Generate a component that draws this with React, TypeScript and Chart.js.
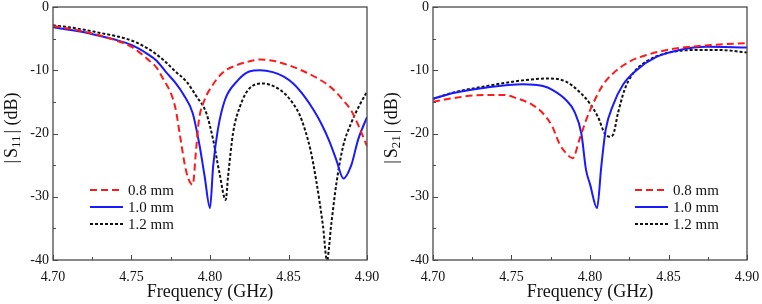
import React, { useEffect, useRef } from "react";
import { Chart, registerables } from "chart.js";

Chart.register(...registerables);

type Pt = [number, number];

// ---------- Data ----------
const S11_08: Pt[] = [
  [4.700, -3.0], [4.710, -3.4], [4.720, -3.9], [4.730, -4.5], [4.740, -5.3], [4.750, -6.3],
  [4.760, -8.2], [4.766, -9.6], [4.770, -11.3], [4.775, -13.6], [4.778, -16.0], [4.781, -20.5],
  [4.784, -25.0], [4.786, -27.0], [4.789, -28.1], [4.791, -23.0], [4.793, -17.8], [4.7965, -14.7],
  [4.801, -12.6], [4.808, -10.4], [4.817, -9.2], [4.825, -8.6], [4.832, -8.3], [4.840, -8.5],
  [4.850, -9.2], [4.860, -10.2], [4.870, -11.5], [4.875, -12.3], [4.880, -13.4], [4.885, -14.8],
  [4.890, -16.4], [4.895, -19.0], [4.900, -22.0],
];
const S11_10: Pt[] = [
  [4.700, -3.2], [4.710, -3.6], [4.720, -4.0], [4.730, -4.6], [4.740, -5.2], [4.750, -6.0],
  [4.760, -7.4], [4.766, -8.5], [4.772, -10.3], [4.778, -12.0], [4.783, -13.8], [4.789, -16.8],
  [4.7935, -22.1], [4.7966, -26.8], [4.800, -31.8], [4.802, -25.2], [4.805, -19.4], [4.8095, -14.7],
  [4.817, -11.8], [4.825, -10.2], [4.832, -10.0], [4.840, -10.3], [4.847, -11.0], [4.853, -12.1],
  [4.860, -14.1], [4.866, -16.3], [4.871, -18.5], [4.876, -21.2], [4.8805, -24.2], [4.885, -27.1],
  [4.890, -25.0], [4.8943, -21.0], [4.900, -17.4],
];
const S11_12: Pt[] = [
  [4.700, -2.9], [4.710, -3.2], [4.720, -3.6], [4.730, -4.1], [4.740, -4.6], [4.750, -5.3],
  [4.760, -6.5], [4.770, -8.3], [4.778, -10.2], [4.785, -11.8], [4.7913, -14.1], [4.7977, -16.8],
  [4.802, -21.0], [4.806, -26.2], [4.810, -30.5], [4.8115, -26.8], [4.8147, -19.9], [4.819, -15.8],
  [4.825, -12.9], [4.834, -12.1], [4.842, -12.7], [4.848, -13.8], [4.853, -15.3], [4.857, -17.0],
  [4.8605, -19.4], [4.864, -22.6], [4.8677, -27.5], [4.872, -34.7], [4.8745, -40.0], [4.8773, -34.2],
  [4.8805, -27.9], [4.8847, -22.1], [4.890, -18.3], [4.8953, -15.5], [4.900, -13.4],
];

const S21_08: Pt[] = [
  [4.700, -15.0], [4.713, -14.4], [4.732, -13.9], [4.745, -13.9], [4.753, -14.4], [4.7635, -15.5],
  [4.770, -16.8], [4.776, -18.9], [4.7805, -21.6], [4.7847, -23.1], [4.789, -23.9], [4.7932, -21.0],
  [4.7975, -17.9], [4.8017, -15.4], [4.8083, -12.3], [4.8147, -10.5], [4.8253, -8.6], [4.836, -7.6],
  [4.851, -6.7], [4.868, -6.2], [4.885, -5.9], [4.900, -5.7],
];
const S21_10: Pt[] = [
  [4.700, -14.5], [4.713, -13.6], [4.732, -12.8], [4.7573, -12.2], [4.770, -12.5], [4.776, -13.1],
  [4.7847, -14.7], [4.790, -16.5], [4.7945, -20.0], [4.7975, -25.8], [4.800, -28.0], [4.8045, -31.8],
  [4.8072, -25.2], [4.810, -19.4], [4.8147, -15.5], [4.821, -12.3], [4.8296, -10.0], [4.8423, -7.9],
  [4.857, -6.8], [4.874, -6.3], [4.900, -6.4],
];
const S21_12: Pt[] = [
  [4.700, -14.5], [4.715, -13.4], [4.7318, -12.6], [4.7573, -11.6], [4.774, -11.3], [4.7847, -11.8],
  [4.7932, -13.4], [4.800, -15.3], [4.8051, -17.4], [4.8094, -20.0], [4.8125, -20.5], [4.8147, -20.2],
  [4.8178, -16.8], [4.822, -13.1], [4.8274, -10.5], [4.836, -8.6], [4.8487, -7.3], [4.868, -6.8],
  [4.8826, -6.8], [4.900, -7.2],
];

const SERIES_LABELS = ["0.8 mm", "1.0 mm", "1.2 mm"];
const X_MIN = 4.7;
const X_MAX = 4.9;
const X_STEP = 0.05;
const Y_MIN = -40;
const Y_MAX = 0;
const Y_STEP = 10;
const X_TITLE = "Frequency (GHz)";

// ---------- Styles ----------
const SERIF = "'Liberation Serif', 'Times New Roman', serif";
const FRAME = "#4a4a4a";
const STYLES = [
  { color: "#ff1a1a", dash: [7, 4] },
  { color: "#1a1aff", dash: [] as number[] },
  { color: "#111111", dash: [3, 2] },
];

const framePlugin = {
  id: "frameTicks",
  afterDatasetsDraw(chart: any) {
    const { ctx, chartArea: a, scales } = chart;
    const xs = scales.x, ys = scales.y;
    ctx.save();
    ctx.strokeStyle = FRAME;
    ctx.lineWidth = 1.3;
    ctx.setLineDash([]);
    ctx.strokeRect(a.left, a.top, a.right - a.left, a.bottom - a.top);
    ctx.lineWidth = 1;
    const nX = Math.round((X_MAX - X_MIN) / (X_STEP / 2));
    for (let i = 0; i <= nX; i++) {
      const v = X_MIN + i * (X_STEP / 2);
      const px = Math.round(xs.getPixelForValue(v)) + 0.5;
      const len = i % 2 === 0 ? 5 : 3;
      ctx.beginPath();
      ctx.moveTo(px, a.bottom);
      ctx.lineTo(px, a.bottom - len);
      ctx.stroke();
    }
    const nY = Math.round((Y_MAX - Y_MIN) / (Y_STEP / 2));
    for (let i = 0; i <= nY; i++) {
      const v = Y_MIN + i * (Y_STEP / 2);
      const py = Math.round(ys.getPixelForValue(v)) + 0.5;
      const len = i % 2 === 0 ? 5 : 3;
      ctx.beginPath();
      ctx.moveTo(a.left, py);
      ctx.lineTo(a.left + len, py);
      ctx.stroke();
    }
    ctx.restore();
  },
};

const titlesPlugin = {
  id: "titlesCustom",
  afterDraw(chart: any, _args: any, opts: any) {
    const { ctx, chartArea: a } = chart;
    ctx.save();
    ctx.fillStyle = "#111";
    // x title
    ctx.font = `18px ${SERIF}`;
    ctx.textAlign = "center";
    ctx.textBaseline = "alphabetic";
    ctx.fillText(X_TITLE, (a.left + a.right) / 2, 297);
    // y title with subscript
    const big = `18px ${SERIF}`;
    const small = `13px ${SERIF}`;
    const parts = [
      { t: "|", f: big, dy: 0, gap: 2 },
      { t: "S", f: big, dy: 0, gap: 0 },
      { t: opts.sub, f: small, dy: 3, gap: 2 },
      { t: "|", f: big, dy: 0, gap: 0 },
      { t: " (dB)", f: big, dy: 0, gap: 0 },
    ];
    let total = 0;
    const widths = parts.map((p) => {
      ctx.font = p.f;
      const w = ctx.measureText(p.t).width + p.gap;
      total += w;
      return w;
    });
    ctx.translate(17, 128);
    ctx.rotate(-Math.PI / 2);
    ctx.textAlign = "left";
    let x = -total / 2;
    parts.forEach((p, i) => {
      ctx.font = p.f;
      ctx.fillText(p.t, x, p.dy);
      x += widths[i];
    });
    ctx.restore();
  },
};

const legendPlugin = {
  id: "legendCustom",
  afterDraw(chart: any, _args: any, opts: any) {
    const { ctx, chartArea: a } = chart;
    ctx.save();
    ctx.font = `15px ${SERIF}`;
    ctx.textBaseline = "middle";
    ctx.textAlign = "left";
    SERIES_LABELS.forEach((lab, i) => {
      const y = a.top + opts.dy + i * 17;
      const x0 = a.left + opts.dx;
      ctx.strokeStyle = STYLES[i].color;
      ctx.lineWidth = 2;
      ctx.setLineDash(STYLES[i].dash);
      ctx.beginPath();
      ctx.moveTo(x0, y);
      ctx.lineTo(x0 + 33, y);
      ctx.stroke();
      ctx.setLineDash([]);
      ctx.fillStyle = "#111";
      ctx.fillText(lab, x0 + 38, y + 1);
    });
    ctx.restore();
  },
};

type PanelProps = { series: Pt[][]; sub: string; legendDx: number; padRight: number; left: number; width: number };

function Panel({ series, sub, legendDx, padRight, left, width }: PanelProps) {
  const ref = useRef<HTMLCanvasElement | null>(null);
  useEffect(() => {
    if (!ref.current) return;
    const chart = new Chart(ref.current, {
      type: "line",
      data: {
        datasets: series.map((s, i) => ({
          label: SERIES_LABELS[i],
          data: s.map(([x, y]) => ({ x, y })),
          borderColor: STYLES[i].color,
          borderDash: STYLES[i].dash,
          borderWidth: 2,
          pointRadius: 0,
          fill: false,
          cubicInterpolationMode: "monotone" as const,
        })),
      },
      options: {
        responsive: false,
        animation: false,
        layout: { padding: { left: 0, right: padRight, top: 7, bottom: 0 } },
        plugins: {
          legend: { display: false },
          tooltip: { enabled: false },
          titlesCustom: { sub },
          legendCustom: { dx: legendDx, dy: 183 },
        } as any,
        scales: {
          x: {
            type: "linear",
            min: X_MIN,
            max: X_MAX,
            grid: { display: false, drawTicks: false },
            border: { display: false },
            afterFit: (s: any) => { s.height = 44; s.paddingLeft = 0; s.paddingRight = 0; },
            ticks: {
              stepSize: X_STEP,
              padding: 10,
              color: "#111",
              font: { family: SERIF, size: 14, lineHeight: 1 },
              maxRotation: 0,
              callback: (v: any) => Number(v).toFixed(2),
            },
          },
          y: {
            type: "linear",
            min: Y_MIN,
            max: Y_MAX,
            grid: { display: false, drawTicks: false },
            border: { display: false },
            afterFit: (s: any) => { s.width = 53; s.paddingTop = 0; s.paddingBottom = 0; },
            ticks: {
              stepSize: Y_STEP,
              padding: 4,
              color: "#111",
              font: { family: SERIF, size: 14, lineHeight: 1 },
              callback: (v: any) => String(Math.round(Number(v))),
            },
          },
        },
      },
      plugins: [framePlugin, titlesPlugin, legendPlugin],
    });
    return () => chart.destroy();
  }, []);
  return (
    <div style={{ position: "absolute", left, top: 0, width, height: 304 }}>
      <canvas ref={ref} width={width} height={304} style={{ display: "block" }} />
    </div>
  );
}

export default function App() {
  return (
    <div style={{ position: "fixed", left: 0, top: 0, width: 762, height: 304, background: "#fff" }}>
      <Panel series={[S11_08, S11_10, S11_12]} sub="11" legendDx={37} padRight={13} left={0} width={380} />
      <Panel series={[S21_08, S21_10, S21_12]} sub="21" legendDx={202} padRight={15} left={380} width={382} />
    </div>
  );
}
